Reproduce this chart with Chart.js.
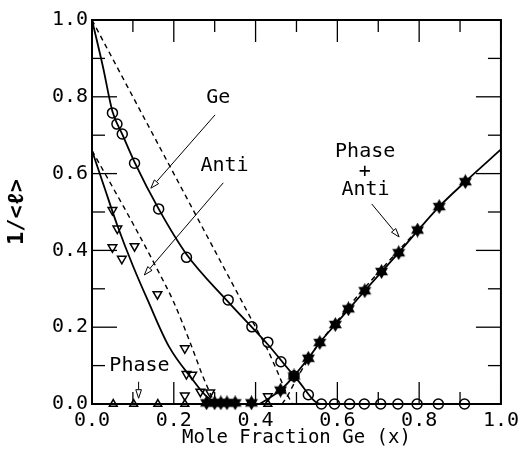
<!DOCTYPE html>
<html><head><meta charset="utf-8">
<script src="https://cdn.jsdelivr.net/npm/chart.js@4"></script>
<style>html,body{margin:0;padding:0;background:#fff}</style>
</head><body>
<canvas id="c" width="524" height="461"></canvas>
<script>
// ---- data ----
const geX = [0.05,0.061,0.074,0.104,0.163,0.231,0.333,0.391,0.43,0.462,0.494,0.529,0.561,0.593,0.63,0.666,0.706,0.748,0.795,0.847,0.911];
const geY = [0.758,0.729,0.703,0.627,0.508,0.382,0.271,0.201,0.161,0.11,0.073,0.024,0,0,0,0,0,0,0,0,0];
const geFitX = [0,0.027,0.05,0.075,0.104,0.163,0.231,0.333,0.43,0.5,0.56,0.911];
const geFitY = [1.0,0.877,0.762,0.7,0.63,0.508,0.39,0.266,0.155,0.066,0,0];
const geDashX = [0,0.2,0.36,0.40,0.43,0.455,0.475,0.49];
const geDashY = [1.0,0.6,0.28,0.2,0.14,0.08,0.03,0];

const antiX = [0.05,0.062,0.05,0.073,0.104,0.16,0.227,0.231,0.245,0.227,0.265,0.289,0.43];
const antiY = [0.505,0.457,0.408,0.378,0.411,0.286,0.145,0.078,0.076,0.022,0.032,0.03,0.02];
const antiFitX = [0,0.03,0.062,0.1,0.136,0.188,0.245,0.28,0.31];
const antiFitY = [0.66,0.565,0.465,0.36,0.271,0.15,0.065,0.02,0];
const antiDashX = [0,0.1,0.16,0.2,0.24,0.27,0.29,0.30];
const antiDashY = [0.66,0.47,0.35,0.265,0.16,0.075,0.025,0];

const phaseX = [0.052,0.102,0.161,0.227,0.43];
const phaseY = [0,0,0,0,0];

const paX = [0.28,0.30,0.315,0.33,0.35,0.39,0.461,0.494,0.529,0.557,0.595,0.627,0.667,0.708,0.75,0.796,0.849,0.913];
const paY = [0.003,0.003,0.003,0.003,0.003,0.003,0.036,0.073,0.119,0.16,0.207,0.248,0.295,0.345,0.394,0.453,0.514,0.579];
const paFitX = [0.41,0.461,0.494,0.529,0.557,0.595,0.667,0.75,0.849,0.913,1.0];
const paFitY = [0,0.036,0.073,0.119,0.16,0.207,0.295,0.394,0.514,0.579,0.663];
const paDashX = [0.465,0.48,0.5,0.55,0.6,0.65,0.7,0.75,0.8];
const paDashY = [0,0.025,0.065,0.15,0.217,0.282,0.342,0.4,0.458];

const majorTicks = [0,0.2,0.4,0.6,0.8,1.0];
const minorTicks = [0.1,0.3,0.5,0.7,0.9];

// annotations (data coordinates)
const labels = [
  {t:'Ge', x:0.309, y:0.797},
  {t:'Anti', x:0.324, y:0.621},
  {t:'Phase', x:0.116, y:0.099},
  {t:'Phase', x:0.668, y:0.657},
  {t:'+', x:0.667, y:0.605},
  {t:'Anti', x:0.669, y:0.557}
];
const arrows = [
  {x1:0.301,y1:0.753,x2:0.144,y2:0.562},
  {x1:0.321,y1:0.576,x2:0.128,y2:0.336},
  {x1:0.114,y1:0.058,x2:0.114,y2:0.015},
  {x1:0.684,y1:0.521,x2:0.751,y2:0.435}
];

const pts = (xs,ys) => xs.map((x,i)=>({x, y:ys[i]}));

// filled hexagram marker
function hexagram(size){
  const c = document.createElement('canvas');
  c.width = size; c.height = size;
  const g = c.getContext('2d');
  const r = size/2, cx = r, cy = r;
  g.fillStyle = '#000';
  for (const rot of [-Math.PI/2, Math.PI/2]) {
    g.beginPath();
    for (let k=0;k<3;k++){
      const a = rot + k*2*Math.PI/3;
      const px = cx + r*Math.cos(a), py = cy + r*Math.sin(a);
      k ? g.lineTo(px,py) : g.moveTo(px,py);
    }
    g.closePath(); g.fill();
  }
  return c;
}
const star = hexagram(15);

const FONT = "'DejaVu Sans Mono', 'Liberation Mono', monospace";

const lineDs = (data, dash) => ({
  data, showLine:true, pointRadius:0, borderColor:'#000', borderWidth: dash ? 1.4 : 1.8,
  borderDash: dash ? [5,4] : [], cubicInterpolationMode:'monotone', fill:false, clip:false
});

const framePlugin = {
  id:'framePlugin',
  afterDraw(chart){
    const {ctx, chartArea:a, scales:{x, y}} = chart;
    ctx.save();
    ctx.strokeStyle = '#000';
    ctx.lineWidth = 2;
    ctx.strokeRect(a.left, a.top, a.right-a.left, a.bottom-a.top);
    ctx.lineWidth = 1.3;
    const drawX = (v, len) => {
      const px = x.getPixelForValue(v);
      ctx.beginPath(); ctx.moveTo(px, a.bottom); ctx.lineTo(px, a.bottom-len); ctx.stroke();
      ctx.beginPath(); ctx.moveTo(px, a.top); ctx.lineTo(px, a.top+len); ctx.stroke();
    };
    const drawY = (v, len) => {
      const py = y.getPixelForValue(v);
      ctx.beginPath(); ctx.moveTo(a.left, py); ctx.lineTo(a.left+len, py); ctx.stroke();
      ctx.beginPath(); ctx.moveTo(a.right, py); ctx.lineTo(a.right-len, py); ctx.stroke();
    };
    majorTicks.forEach(v=>{drawX(v,22); drawY(v,25);});
    minorTicks.forEach(v=>{drawX(v,12); drawY(v,13);});

    // annotations
    ctx.fillStyle = '#000';
    ctx.font = '20px ' + FONT;
    ctx.textAlign = 'center'; ctx.textBaseline = 'middle';
    labels.forEach(l => ctx.fillText(l.t, x.getPixelForValue(l.x), y.getPixelForValue(l.y)));
    ctx.lineWidth = 1;
    arrows.forEach(ar => {
      const x1 = x.getPixelForValue(ar.x1), y1 = y.getPixelForValue(ar.y1);
      const x2 = x.getPixelForValue(ar.x2), y2 = y.getPixelForValue(ar.y2);
      const ang = Math.atan2(y2-y1, x2-x1);
      const hl = 9, hw = 0.32;
      const bx = x2 - hl*Math.cos(ang), by = y2 - hl*Math.sin(ang);
      ctx.beginPath(); ctx.moveTo(x1,y1); ctx.lineTo(bx,by); ctx.stroke();
      ctx.beginPath();
      ctx.moveTo(x2,y2);
      ctx.lineTo(x2 - hl*Math.cos(ang-hw), y2 - hl*Math.sin(ang-hw));
      ctx.lineTo(x2 - hl*Math.cos(ang+hw), y2 - hl*Math.sin(ang+hw));
      ctx.closePath(); ctx.stroke();
    });
    ctx.restore();
  }
};

new Chart(document.getElementById('c'), {
  type:'scatter',
  data:{ datasets:[
    {data:pts(geX,geY), pointStyle:'circle', pointRadius:5, borderWidth:1.5, borderColor:'#000', backgroundColor:'rgba(0,0,0,0)', clip:false},
    {data:pts(antiX,antiY), pointStyle:'triangle', rotation:180, pointRadius:5, borderWidth:1.5, borderColor:'#000', backgroundColor:'rgba(0,0,0,0)', clip:false},
    {data:pts(phaseX,phaseY), pointStyle:'triangle', pointRadius:4.5, borderWidth:1.5, borderColor:'#000', backgroundColor:'rgba(0,0,0,0)', clip:false},
    {data:pts(paX,paY), pointStyle:star, pointRadius:7, borderColor:'#000', backgroundColor:'#000', clip:false},
    lineDs(pts(geFitX,geFitY), false),
    lineDs(pts(geDashX,geDashY), true),
    lineDs(pts(antiFitX,antiFitY), false),
    lineDs(pts(antiDashX,antiDashY), true),
    lineDs(pts(paFitX,paFitY), false),
    lineDs(pts(paDashX,paDashY), true)
  ]},
  options:{
    responsive:false, animation:false, devicePixelRatio:1,
    layout:{padding:{top:20, right:18, left:0, bottom:0}},
    plugins:{legend:{display:false}, tooltip:{enabled:false}},
    elements:{point:{hoverRadius:5}},
    scales:{
      x:{type:'linear', min:0, max:1,
        afterFit(s){ s.height = 57; },
        afterBuildTicks(s){ s.ticks = majorTicks.map(v=>({value:v})); },
        grid:{display:false, drawTicks:false}, border:{display:false},
        ticks:{padding:5, color:'#000', font:{family:FONT, size:20}, maxRotation:0, autoSkip:false,
          callback:v=>v.toFixed(1)},
        title:{display:true, text:'Mole Fraction Ge (x)', color:'#000', font:{family:FONT, size:19}, padding:{top:0,bottom:12}}
      },
      y:{type:'linear', min:0, max:1,
        afterFit(s){ s.width = 92; },
        afterBuildTicks(s){ s.ticks = majorTicks.map(v=>({value:v})); },
        grid:{display:false, drawTicks:false}, border:{display:false},
        ticks:{padding:4, color:'#000', font:{family:FONT, size:20}, autoSkip:false,
          callback:v=>v.toFixed(1)},
        title:{display:true, text:'1/<ℓ>', color:'#000', font:{family:FONT, size:22, weight:'bold'}, padding:{top:4,bottom:0}}
      }
    }
  },
  plugins:[framePlugin]
});
</script>
</body></html>
